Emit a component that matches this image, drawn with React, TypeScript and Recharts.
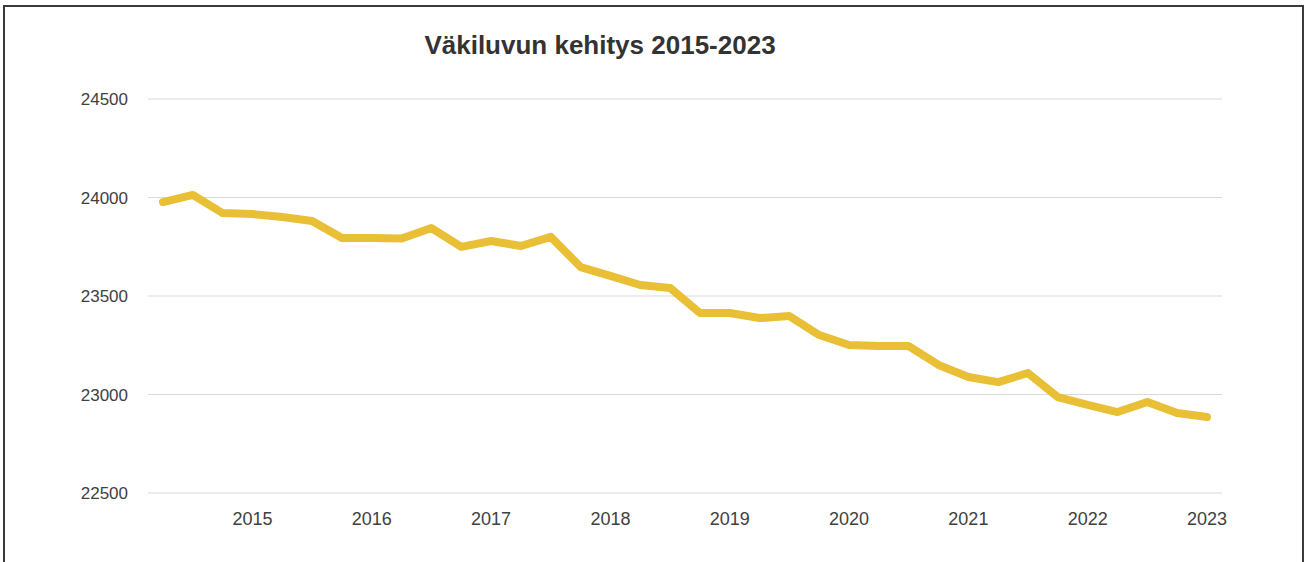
import { LineChart, Line, XAxis, YAxis, CartesianGrid } from 'recharts';

// Quarterly population, 2015 Q1 - 2023 Q4
const quarters = [
  '2015Q1', '2015Q2', '2015Q3', '2015Q4',
  '2016Q1', '2016Q2', '2016Q3', '2016Q4',
  '2017Q1', '2017Q2', '2017Q3', '2017Q4',
  '2018Q1', '2018Q2', '2018Q3', '2018Q4',
  '2019Q1', '2019Q2', '2019Q3', '2019Q4',
  '2020Q1', '2020Q2', '2020Q3', '2020Q4',
  '2021Q1', '2021Q2', '2021Q3', '2021Q4',
  '2022Q1', '2022Q2', '2022Q3', '2022Q4',
  '2023Q1', '2023Q2', '2023Q3', '2023Q4',
];

const population = [
  23977, 24013, 23921, 23916,
  23901, 23881, 23794, 23794,
  23792, 23845, 23749, 23779,
  23754, 23800, 23647, 23602,
  23556, 23541, 23414, 23414,
  23388, 23398, 23302, 23251,
  23246, 23246, 23150, 23089,
  23063, 23109, 22987, 22947,
  22911, 22962, 22906, 22886,
];

const yearTicks = quarters.filter((q) => q.endsWith('Q4'));
const yTicks = [22500, 23000, 23500, 24000, 24500];

const data = quarters.map((q, i) => ({ quarter: q, value: population[i] }));

const font = '"Liberation Sans", Arial, sans-serif';

export default function App() {
  return (
    <div style={{ position: 'absolute', left: 0, top: 0, width: 1306, height: 562, overflow: 'hidden', background: '#fff', fontFamily: font }}>
      <div
        style={{
          position: 'absolute',
          left: 3,
          top: 5,
          width: 1297,
          height: 600,
          border: '2px solid #3a3a3a',
        }}
      />
      <div
        style={{
          position: 'absolute',
          left: 0,
          top: 30,
          width: 1200,
          textAlign: 'center',
          fontSize: 26,
          fontWeight: 'bold',
          color: '#333',
        }}
      >
        Väkiluvun kehitys 2015-2023
      </div>
      <div style={{ position: 'absolute', left: 0, top: 0 }}>
        <LineChart width={1306} height={562} data={data} margin={{ top: 99, right: 84, bottom: 29, left: 88 }}>
          <CartesianGrid vertical={false} stroke="#d9d9d9" />
          <XAxis
            dataKey="quarter"
            ticks={yearTicks}
            tickFormatter={(q: string) => q.slice(0, 4)}
            axisLine={false}
            tickLine={false}
            tickSize={0}
            tickMargin={19}
            height={40}
            padding={{ left: 15, right: 15 }}
            interval={0}
            tick={{ fill: '#404040', fontSize: 18, fontFamily: font }}
          />
          <YAxis
            domain={[22500, 24500]}
            ticks={yTicks}
            axisLine={false}
            tickLine={false}
            tickSize={0}
            tickMargin={20}
            width={60}
            tick={{ fill: '#404040', fontSize: 17, fontFamily: font }}
          />
          <Line
            type="linear"
            dataKey="value"
            stroke="#E9BF36"
            strokeWidth={8}
            strokeLinejoin="round"
            strokeLinecap="round"
            dot={false}
            isAnimationActive={false}
          />
        </LineChart>
      </div>
    </div>
  );
}
